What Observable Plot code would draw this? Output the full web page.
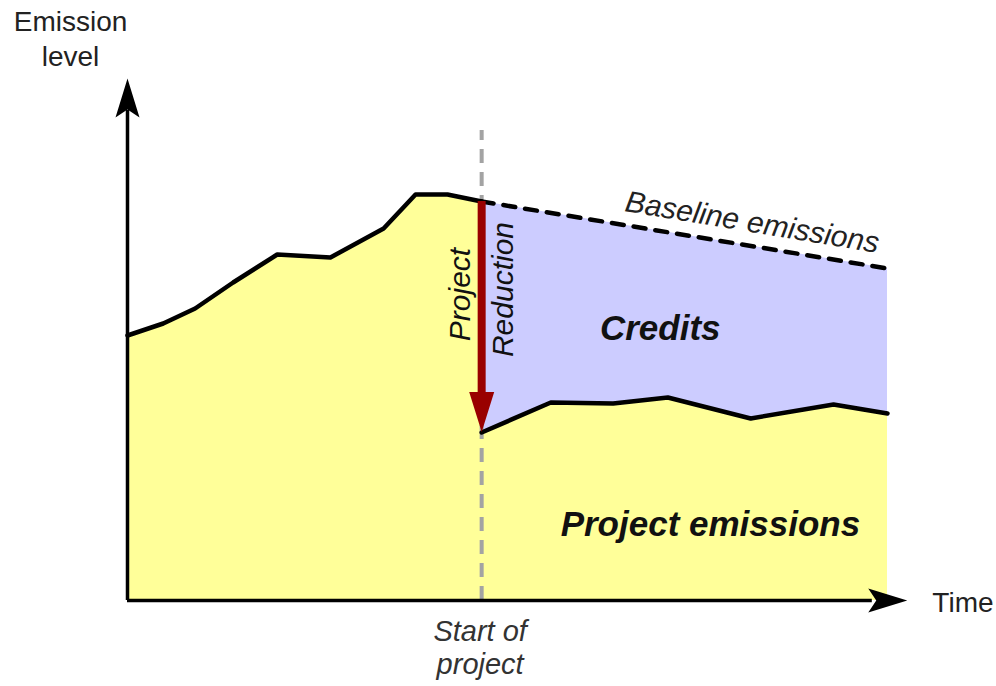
<!DOCTYPE html>
<html>
<head>
<meta charset="utf-8">
<script src="https://cdn.jsdelivr.net/npm/d3@7"></script>
<script src="https://cdn.jsdelivr.net/npm/@observablehq/plot@0.6"></script>
<style>
  html, body { margin: 0; padding: 0; background: #fff; }
  #chart { width: 996px; height: 686px; }
</style>
</head>
<body>
<div id="chart"></div>
<script>
// ---- Data (abstract units: time 0..100, emission level 0..100) ----
const preTime  = [0, 4.7, 8.9, 13.9, 19.7, 26.7, 33.7, 37.9, 42.1, 46.6];
const preLevel = [53, 55.4, 58.4, 63.6, 69.2, 68.6, 74.4, 81.2, 81.2, 79.8];
const postTime  = [46.6, 55.7, 63.9, 71.1, 82.0, 92.9, 100];
const postLevel = [33.6, 39.6, 39.4, 40.6, 36.4, 39.2, 37.4];
const baselineTime  = [46.6, 100];
const baselineLevel = [79.8, 66.4];
const projectStart = 46.6;

const pre = preTime.map((t, i) => ({t, e: preLevel[i]}));
const post = postTime.map((t, i) => ({t, e: postLevel[i]}));
const baseline = baselineTime.map((t, i) => ({t, e: baselineLevel[i]}));
const project = [...pre, ...post];

// ---- custom arrowhead symbols ----
function sc(size) { return Math.sqrt(size / Math.PI); }
const stealthUp = {draw(c, size) { const s = sc(size);
  c.moveTo(0, 0); c.lineTo(12*s, 39*s); c.lineTo(0, 31*s); c.lineTo(-12*s, 39*s); c.closePath(); }};
const stealthRight = {draw(c, size) { const s = sc(size);
  c.moveTo(0, 0); c.lineTo(-39*s, 12*s); c.lineTo(-31*s, 0); c.lineTo(-39*s, -12*s); c.closePath(); }};
const triDown = {draw(c, size) { const s = sc(size);
  c.moveTo(0, 0); c.lineTo(12.5*s, -40*s); c.lineTo(-12.5*s, -40*s); c.closePath(); }};

const FONT = "'Liberation Sans', Arial, Helvetica, sans-serif";

const chart = Plot.plot({
  width: 996,
  height: 686,
  marginLeft: 127,
  marginRight: 109,
  marginTop: 100,
  marginBottom: 86,
  x: {domain: [0, 100], axis: null},
  y: {domain: [0, 100], axis: null},
  style: {fontFamily: FONT, background: "#fff", overflow: "visible"},
  marks: [
    // credits (blue) area under baseline, then project emissions (yellow) over it
    Plot.areaY(baseline, {x: "t", y1: 0, y2: "e", fill: "#ccccff"}),
    Plot.areaY(project, {x: "t", y1: 0, y2: "e", fill: "#ffff99"}),
    // start of project dashed rule
    Plot.ruleX([projectStart], {y1: 0, y2: 94, stroke: "#a3a3a3", strokeWidth: 4, strokeDasharray: "14,9"}),
    // emission lines
    Plot.line(pre, {x: "t", y: "e", stroke: "#000", strokeWidth: 4.5, strokeLinejoin: "round"}),
    Plot.line(post, {x: "t", y: "e", stroke: "#000", strokeWidth: 4.5, strokeLinejoin: "round"}),
    Plot.line(baseline, {x: "t", y: "e", stroke: "#000", strokeWidth: 4.5, strokeDasharray: "12,10"}),
    // reduction arrow
    Plot.ruleX([projectStart], {y1: baselineLevel[0], y2: postLevel[0] + 7.6, stroke: "#990000", strokeWidth: 8}),
    Plot.dot([projectStart], {x: d => d, y: postLevel[0] + 0.1, r: 1, symbol: triDown, fill: "#990000", stroke: "none"}),
    // axes
    Plot.ruleY([0], {x1: 0, x2: 98, stroke: "#000", strokeWidth: 3.5}),
    Plot.ruleX([0], {y1: 0, y2: 98, stroke: "#000", strokeWidth: 3.5}),
    Plot.dot([0], {x: 102.6, y: 0, r: 1, symbol: stealthRight, fill: "#000", stroke: "none"}),
    Plot.dot([0], {x: 0, y: 104.4, r: 1, symbol: stealthUp, fill: "#000", stroke: "none"}),
    // labels
    Plot.text(["Emission"], {x: -7.5, y: 115.6, text: d => d, fontSize: 28, fill: "#222", textAnchor: "middle"}),
    Plot.text(["level"], {x: -7.5, y: 108.6, text: d => d, fontSize: 28, fill: "#222", textAnchor: "middle"}),
    Plot.text(["Time"], {x: 105.9, y: -0.6, text: d => d, fontSize: 28, fill: "#222", textAnchor: "start"}),
    Plot.text(["Start of"], {x: 46.4, y: -6.2, text: d => d, fontSize: 29, fill: "#333", fontStyle: "italic", textAnchor: "middle"}),
    Plot.text(["project"], {x: 46.4, y: -12.8, text: d => d, fontSize: 29, fill: "#333", fontStyle: "italic", textAnchor: "middle"}),
    Plot.text(["Baseline emissions"], {x: 82.2, y: 75.6, text: d => d, fontSize: 30, fill: "#222", fontStyle: "italic", rotate: 9.4, textAnchor: "middle"}),
    Plot.text(["Credits"], {x: 70.1, y: 54.4, text: d => d, fontSize: 35, fill: "#111", fontStyle: "italic", fontWeight: "bold", textAnchor: "middle"}),
    Plot.text(["Project emissions"], {x: 76.7, y: 15.2, text: d => d, fontSize: 35, fill: "#111", fontStyle: "italic", fontWeight: "bold", textAnchor: "middle"}),
    Plot.text(["Project"], {x: 43.8, y: 61.2, text: d => d, fontSize: 30, fill: "#111", fontStyle: "italic", rotate: -90, textAnchor: "middle"}),
    Plot.text(["Reduction"], {x: 49.5, y: 62.2, text: d => d, fontSize: 30, fill: "#111", fontStyle: "italic", rotate: -90, textAnchor: "middle"})
  ]
});
document.getElementById("chart").appendChild(chart);
</script>
</body>
</html>
